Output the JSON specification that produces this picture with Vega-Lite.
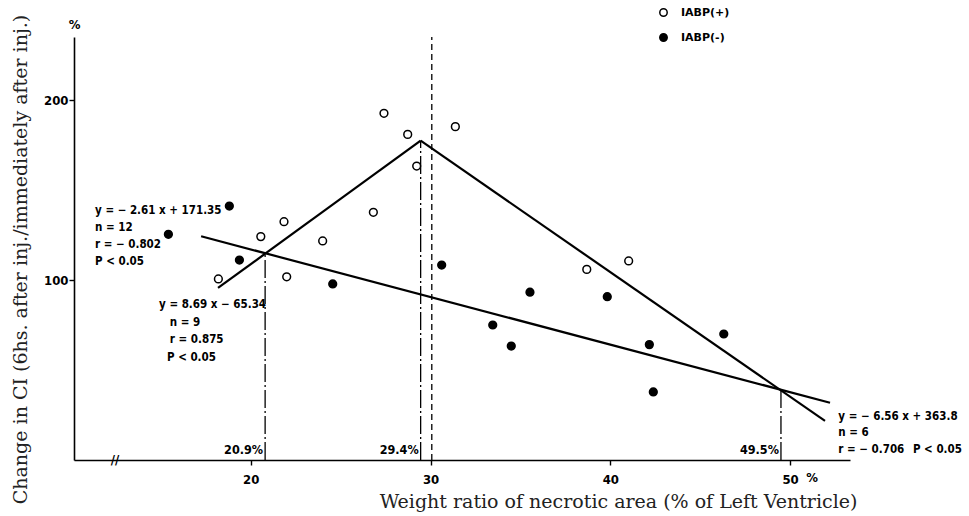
{
  "$schema": "https://vega.github.io/schema/vega-lite/v6.json",
  "autosize": {"type": "none"},
  "padding": {"left": 74, "top": 37, "right": 119, "bottom": 56},
  "width": 776,
  "height": 423,
  "background": "white",
  "config": {
    "view": {"stroke": null},
    "axis": {
      "grid": false,
      "domainColor": "black",
      "domainWidth": 1.6,
      "tickColor": "black",
      "tickWidth": 1.4,
      "tickSize": 5,
      "labelColor": "black",
      "labelFont": "Liberation Sans Narrow, DejaVu Sans Condensed, Liberation Sans, sans-serif",
      "labelFontWeight": "bold",
      "labelFontSize": 13,
      "titleFont": "DejaVu Serif, Liberation Serif, serif",
      "titleFontWeight": "normal",
      "titleFontSize": 19,
      "titleColor": "#222222"
    },
    "text": {"font": "Liberation Sans Narrow, DejaVu Sans Condensed, Liberation Sans, sans-serif", "fontWeight": "bold", "fontSize": 11.5, "color": "black"}
  },
  "datasets": {
    "pts": [
      {"ratio": 18.2, "change": 100.6, "group": "IABP(+)"},
      {"ratio": 20.56, "change": 124.1, "group": "IABP(+)"},
      {"ratio": 21.85, "change": 132.4, "group": "IABP(+)"},
      {"ratio": 22.0, "change": 101.8, "group": "IABP(+)"},
      {"ratio": 24.0, "change": 121.7, "group": "IABP(+)"},
      {"ratio": 27.41, "change": 192.6, "group": "IABP(+)"},
      {"ratio": 28.73, "change": 180.9, "group": "IABP(+)"},
      {"ratio": 31.38, "change": 185.2, "group": "IABP(+)"},
      {"ratio": 29.23, "change": 163.3, "group": "IABP(+)"},
      {"ratio": 26.82, "change": 137.6, "group": "IABP(+)"},
      {"ratio": 41.02, "change": 110.6, "group": "IABP(+)"},
      {"ratio": 38.69, "change": 105.9, "group": "IABP(+)"},
      {"ratio": 15.42, "change": 125.4, "group": "IABP(-)"},
      {"ratio": 18.81, "change": 141.1, "group": "IABP(-)"},
      {"ratio": 19.37, "change": 111.1, "group": "IABP(-)"},
      {"ratio": 24.56, "change": 97.8, "group": "IABP(-)"},
      {"ratio": 30.62, "change": 108.3, "group": "IABP(-)"},
      {"ratio": 33.46, "change": 75.0, "group": "IABP(-)"},
      {"ratio": 34.49, "change": 63.3, "group": "IABP(-)"},
      {"ratio": 35.53, "change": 93.2, "group": "IABP(-)"},
      {"ratio": 39.83, "change": 90.7, "group": "IABP(-)"},
      {"ratio": 42.17, "change": 64.1, "group": "IABP(-)"},
      {"ratio": 42.39, "change": 37.8, "group": "IABP(-)"},
      {"ratio": 46.31, "change": 70.0, "group": "IABP(-)"}
    ],
    "fits": [
      {"fit": "up", "ratio": 18.18, "change": 95.6},
      {"fit": "up", "ratio": 29.45, "change": 177.4},
      {"fit": "down", "ratio": 29.45, "change": 177.4},
      {"fit": "down", "ratio": 51.94, "change": 21.7},
      {"fit": "minus", "ratio": 17.24, "change": 124.3},
      {"fit": "minus", "ratio": 52.22, "change": 31.8}
    ],
    "cuts": [
      {"ratio": 20.8, "base": 0, "top": 114.8, "label": "20.9%", "labelY": 5.6},
      {"ratio": 29.45, "base": 0, "top": 177.4, "label": "29.4%", "labelY": 5.6},
      {"ratio": 49.49, "base": 0, "top": 38.9, "label": "49.5%", "labelY": 5.6}
    ],
    "mid": [
      {"ratio": 30.07, "base": 0, "top": 235}
    ],
    "notes": [
      {"ratio": 11.34, "change": 138.3, "text": "y = − 2.61 x + 171.35"},
      {"ratio": 11.34, "change": 128.9, "text": "n = 12"},
      {"ratio": 11.34, "change": 119.2, "text": "r = − 0.802"},
      {"ratio": 11.34, "change": 110.0, "text": "P < 0.05"},
      {"ratio": 14.9, "change": 86.1, "text": "y = 8.69 x − 65.34"},
      {"ratio": 15.5, "change": 76.3, "text": "n = 9"},
      {"ratio": 15.5, "change": 66.7, "text": "r = 0.875"},
      {"ratio": 15.34, "change": 56.8, "text": "P < 0.05"},
      {"ratio": 52.68, "change": 24.1, "text": "y = − 6.56 x + 363.8"},
      {"ratio": 52.68, "change": 14.8, "text": "n = 6"},
      {"ratio": 52.68, "change": 5.6, "text": "r = − 0.706"},
      {"ratio": 56.83, "change": 5.6, "text": "P < 0.05"}
    ],
    "marks": [
      {"ratio": 51.22, "change": -10.2, "text": "%"},
      {"ratio": 10.2, "change": 241.7, "text": "%"},
      {"ratio": 12.45, "change": 0, "text": "//"}
    ]
  },
  "encoding": {
    "x": {
      "field": "ratio", "type": "quantitative",
      "scale": {"domain": [10.17, 53.33], "nice": false, "zero": false},
      "axis": {
        "values": [20, 30, 40, 50],
        "labelPadding": 8,
        "title": "Weight ratio of necrotic area (% of Left Ventricle)",
        "titleX": 544, "titleY": 41, "titleBaseline": "middle", "titleAlign": "center"
      }
    },
    "y": {
      "field": "change", "type": "quantitative",
      "scale": {"domain": [0, 235], "nice": false},
      "axis": {
        "values": [100, 200],
        "labelPadding": 1,
        "title": "Change in CI (6hs. after inj./immediately after inj.)",
        "titleX": -54, "titleY": 222, "titleAngle": 270, "titleBaseline": "middle", "titleAlign": "center"
      }
    }
  },
  "layer": [
    {
      "data": {"name": "fits"},
      "mark": {"type": "line", "color": "black", "strokeWidth": 2.2},
      "encoding": {"detail": {"field": "fit"}}
    },
    {
      "data": {"name": "cuts"},
      "mark": {"type": "rule", "color": "black", "strokeWidth": 1.3, "strokeDash": [18, 3, 2, 3]},
      "encoding": {"y": {"field": "base", "type": "quantitative"}, "y2": {"field": "top"}}
    },
    {
      "data": {"name": "mid"},
      "mark": {"type": "rule", "color": "black", "strokeWidth": 1.3, "strokeDash": [6, 4]},
      "encoding": {"y": {"field": "base", "type": "quantitative"}, "y2": {"field": "top"}}
    },
    {
      "data": {"name": "cuts"},
      "mark": {"type": "text", "align": "right", "baseline": "middle", "dx": -2, "fontSize": 12.5},
      "encoding": {"y": {"field": "labelY", "type": "quantitative"}, "text": {"field": "label"}}
    },
    {
      "data": {"name": "notes"},
      "mark": {"type": "text", "align": "left", "baseline": "middle"},
      "encoding": {"text": {"field": "text"}}
    },
    {
      "data": {"name": "marks"},
      "mark": {"type": "text", "align": "center", "baseline": "middle", "fontSize": 13},
      "encoding": {"text": {"field": "text"}}
    },
    {
      "data": {"name": "pts"},
      "mark": {"type": "point", "filled": true, "stroke": "black", "strokeWidth": 1.5, "size": 60, "opacity": 1},
      "encoding": {
        "fill": {
          "field": "group", "type": "nominal",
          "scale": {"domain": ["IABP(+)", "IABP(-)"], "range": ["white", "black"]},
          "legend": {
            "title": null,
            "orient": "none",
            "legendX": 584,
            "legendY": -30,
            "padding": 0,
            "rowPadding": 10,
            "labelOffset": 12,
            "labelFont": "DejaVu Sans, sans-serif",
            "labelFontWeight": "bold",
            "labelFontSize": 11,
            "labelColor": "black",
            "symbolStrokeColor": "black",
            "symbolStrokeWidth": 1.5,
            "symbolSize": 55
          }
        }
      }
    }
  ]
}
